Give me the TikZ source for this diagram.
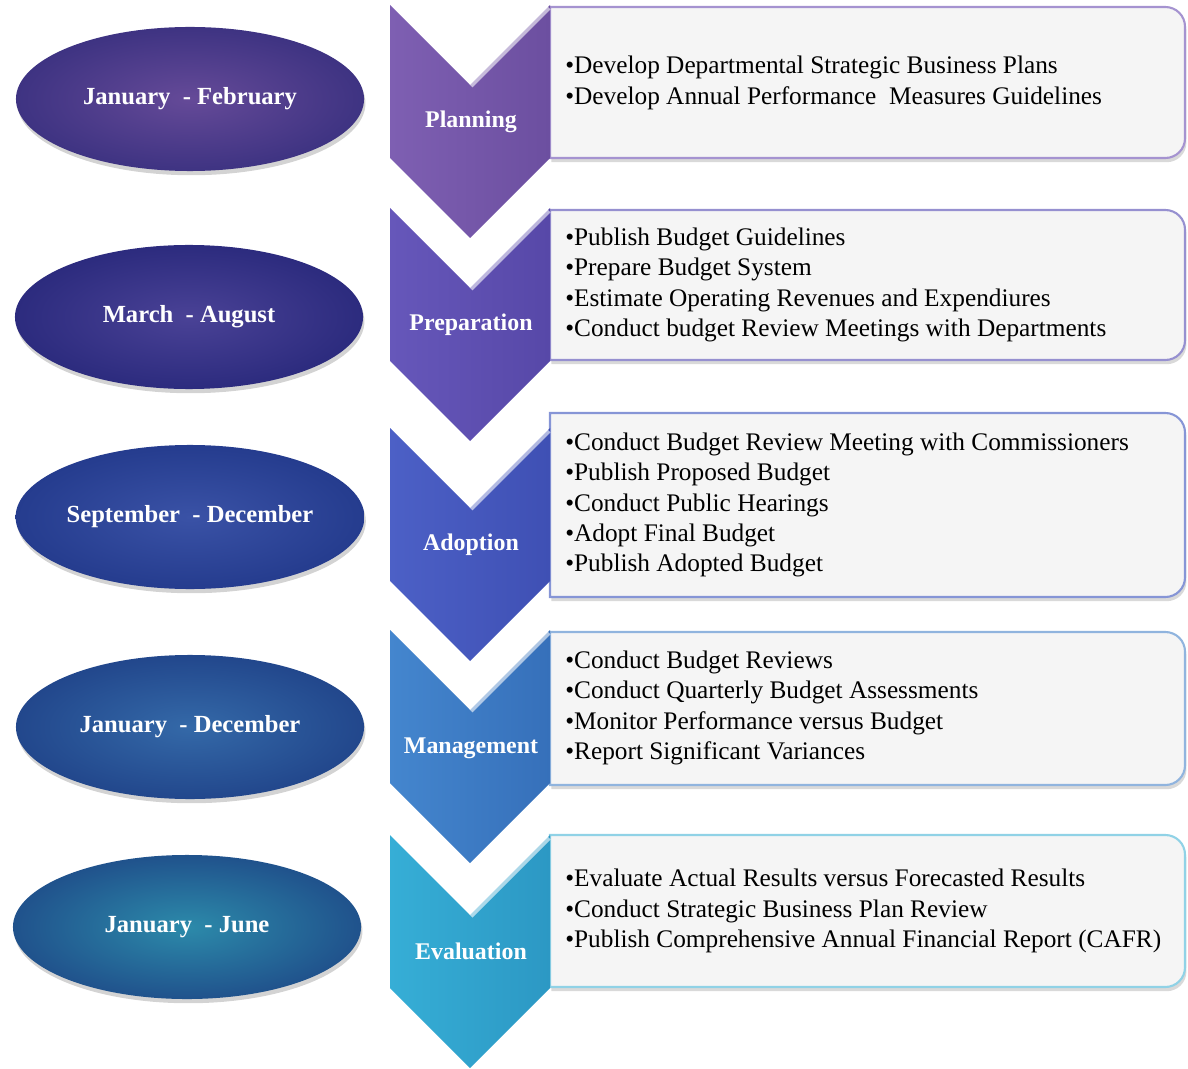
\documentclass[tikz,border=0pt]{standalone}
\usepackage{fontspec}
\setmainfont{Liberation Serif}
\usepackage{tikz}
\usetikzlibrary{shapes.geometric, shadows}
\definecolor{chevL1}{HTML}{7E5FB2}
\definecolor{chevR1}{HTML}{6C4FA0}
\definecolor{ovalIn1}{HTML}{654A98}
\definecolor{ovalOut1}{HTML}{3E3382}
\definecolor{rim1}{HTML}{A593D0}
\definecolor{chevL2}{HTML}{6657BA}
\definecolor{chevR2}{HTML}{5748A8}
\definecolor{ovalIn2}{HTML}{4A4296}
\definecolor{ovalOut2}{HTML}{2C2B7E}
\definecolor{rim2}{HTML}{9690D0}
\definecolor{chevL3}{HTML}{4C60C6}
\definecolor{chevR3}{HTML}{3F50B4}
\definecolor{ovalIn3}{HTML}{3A52A6}
\definecolor{ovalOut3}{HTML}{253C8E}
\definecolor{rim3}{HTML}{8695D6}
\definecolor{chevL4}{HTML}{4486CE}
\definecolor{chevR4}{HTML}{3670BA}
\definecolor{ovalIn4}{HTML}{3469A8}
\definecolor{ovalOut4}{HTML}{22478C}
\definecolor{rim4}{HTML}{90B4DE}
\definecolor{chevL5}{HTML}{36AED6}
\definecolor{chevR5}{HTML}{2C98C4}
\definecolor{ovalIn5}{HTML}{2C8AAA}
\definecolor{ovalOut5}{HTML}{20528C}
\definecolor{rim5}{HTML}{90D2E6}
\definecolor{boxfill}{HTML}{F5F5F5}
\tikzstyle{month} = [ellipse, inner sep=0pt, minimum width=8.7cm, minimum height=3.6cm, text=white, font=\fontsize{17.5}{20}\selectfont\bfseries, drop shadow={shadow xshift=1pt, shadow yshift=-3pt, opacity=0.35}]
\tikzstyle{phase} = [text=white, font=\fontsize{17}{20}\selectfont\bfseries]
\tikzstyle{tasks} = [anchor=west, align=left, inner sep=0pt, font=\fontsize{18}{21.6}\selectfont]
\tikzstyle{taskbox} = [fill=boxfill, line width=1.5pt, drop shadow={shadow xshift=1pt, shadow yshift=-3pt, opacity=0.3}]
\tikzstyle{gloss} = [white, opacity=0.6, line width=3pt]

\begin{document}
\begin{tikzpicture}[x=0.025cm, y=-0.025cm]
\useasboundingbox (0,0) rectangle (1188,1069);

\draw [taskbox, draw=rim1] (550,158) -- (550,7) [rounded corners=14pt] -- (1185,7) -- (1185,158) [sharp corners] -- cycle;
\draw [taskbox, draw=rim2] (550,360) -- (550,210) [rounded corners=14pt] -- (1185,210) -- (1185,360) [sharp corners] -- cycle;
\draw [taskbox, draw=rim3] (550,597) -- (550,413) [rounded corners=14pt] -- (1185,413) -- (1185,597) [sharp corners] -- cycle;
\draw [taskbox, draw=rim4] (550,785) -- (550,632) [rounded corners=14pt] -- (1185,632) -- (1185,785) [sharp corners] -- cycle;
\draw [taskbox, draw=rim5] (550,987) -- (550,835) [rounded corners=14pt] -- (1185,835) -- (1185,987) [sharp corners] -- cycle;

\shade [left color=chevL1, right color=chevR1] (390,5) -- (470,85) -- (550,5) -- (550,158) -- (470,238) -- (390,158) -- cycle;
\shade [left color=chevL2, right color=chevR2] (390,208) -- (470,288) -- (550,208) -- (550,361) -- (470,441) -- (390,361) -- cycle;
\shade [left color=chevL3, right color=chevR3] (390,428) -- (470,508) -- (550,428) -- (550,581) -- (470,661) -- (390,581) -- cycle;
\shade [left color=chevL4, right color=chevR4] (390,630) -- (470,710) -- (550,630) -- (550,783) -- (470,863) -- (390,783) -- cycle;
\shade [left color=chevL5, right color=chevR5] (390,835) -- (470,915) -- (550,835) -- (550,988) -- (470,1068) -- (390,988) -- cycle;

\draw [gloss] (471,86) -- (549,8);
\draw [gloss] (471,289) -- (549,211);
\draw [gloss] (471,509) -- (549,431);
\draw [gloss] (471,711) -- (549,633);
\draw [gloss] (471,916) -- (549,838);

\node [month, inner color=ovalIn1, outer color=ovalOut1] (a) at (190,99) {January~~- February};
\node [phase] (a1) at (471,122) {Planning};
\node [tasks] (a11) at (565,83) {•Develop Departmental Strategic Business Plans\\•Develop Annual Performance~ Measures Guidelines};

\node [month, inner color=ovalIn2, outer color=ovalOut2] (b) at (189,317) {March~~- August};
\node [phase] (b1) at (471,325) {Preparation};
\node [tasks] (b11) at (565,285) {•Publish Budget Guidelines\\•Prepare Budget System\\•Estimate Operating Revenues and Expendiures\\•Conduct budget Review Meetings with Departments};

\node [month, inner color=ovalIn3, outer color=ovalOut3] (c) at (190,517) {September~~- December};
\node [phase] (c1) at (471,545) {Adoption};
\node [tasks] (c11) at (565,505) {•Conduct Budget Review Meeting with Commissioners\\•Publish Proposed Budget\\•Conduct Public Hearings\\•Adopt Final Budget\\•Publish Adopted Budget};

\node [month, inner color=ovalIn4, outer color=ovalOut4] (d) at (190,727) {January~~- December};
\node [phase] (d1) at (471,748) {Management};
\node [tasks] (d11) at (565,708) {•Conduct Budget Reviews\\•Conduct Quarterly Budget Assessments\\•Monitor Performance versus Budget\\•Report Significant Variances};

\node [month, inner color=ovalIn5, outer color=ovalOut5] (e) at (187,927) {January~~- June};
\node [phase] (e1) at (471,951) {Evaluation};
\node [tasks] (e11) at (565,911) {•Evaluate Actual Results versus Forecasted Results\\•Conduct Strategic Business Plan Review\\•Publish Comprehensive Annual Financial Report (CAFR)};
\end{tikzpicture}
\end{document}
